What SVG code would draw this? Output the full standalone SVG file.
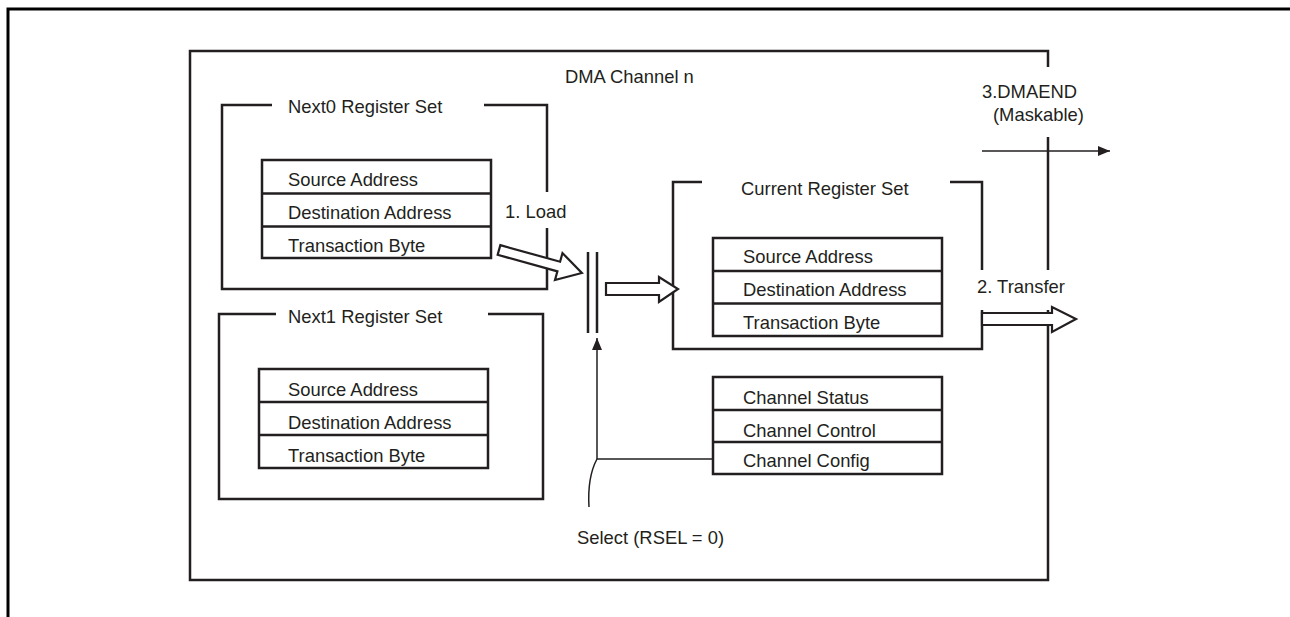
<svg xmlns="http://www.w3.org/2000/svg" width="1290" height="617" viewBox="0 0 1290 617">
<style>
text{font-family:"Liberation Sans",Arial,sans-serif;font-size:18.4px;fill:#231f20}
.b{fill:none;stroke:#231f20;stroke-width:2.5}
.t{fill:#fff;stroke:#231f20;stroke-width:2.5}
.f{fill:none;stroke:#000;stroke-width:3}
.ha{fill:#fff;stroke:#231f20;stroke-width:2.2;stroke-linejoin:miter}
.thin{fill:none;stroke:#231f20;stroke-width:1.5}
</style>
<defs>
<marker id="ah" viewBox="0 0 12 10" refX="12" refY="5" markerWidth="12" markerHeight="10" markerUnits="userSpaceOnUse" orient="auto">
<path d="M0,0 L12,5 L0,10 Z" fill="#231f20"/>
</marker>
</defs>
<rect width="1290" height="617" fill="#fff"/>
<path class="f" d="M8,617 V9 H1290"/>
<g id="channel">
<path class="b" d="M1048,67 V51 H190 V580 H1048 V310 M1048,270 V137"/>
<text x="565" y="83">DMA Channel n</text>
</g>
<g id="next0">
<path class="b" d="M272,105 H222 V289 H547 V228 M547,192 V105 H484"/>
<text x="288" y="113">Next0 Register Set</text>
<rect class="t" x="262" y="160" width="229" height="98"/>
<path class="b" d="M262,193.5 H491 M262,226.5 H491"/>
<text x="288" y="186">Source Address</text>
<text x="288" y="219">Destination Address</text>
<text x="288" y="252">Transaction Byte</text>
</g>
<g id="next1">
<path class="b" d="M276,314 H219 V499 H543 V314 H488"/>
<text x="288" y="323">Next1 Register Set</text>
<rect class="t" x="259" y="369" width="229" height="99"/>
<path class="b" d="M259,402 H488 M259,435 H488"/>
<text x="288" y="396">Source Address</text>
<text x="288" y="429">Destination Address</text>
<text x="288" y="462">Transaction Byte</text>
</g>
<g id="current">
<path class="b" d="M702,182 H673 V349 H982 V310 M982,270 V182 H950"/>
<text x="741" y="195">Current Register Set</text>
<rect class="t" x="713" y="238" width="229" height="98"/>
<path class="b" d="M713,271 H942 M713,303.5 H942"/>
<text x="743" y="263">Source Address</text>
<text x="743" y="296">Destination Address</text>
<text x="743" y="329">Transaction Byte</text>
</g>
<g id="control">
<rect class="t" x="713" y="377" width="229" height="97"/>
<path class="b" d="M713,410 H942 M713,442 H942"/>
<text x="743" y="404">Channel Status</text>
<text x="743" y="437">Channel Control</text>
<text x="743" y="467">Channel Config</text>
</g>
<g id="switch">
<path class="b" d="M588,252 V333 M597,252 V333"/>
</g>
<g id="connectors">
<polygon class="ha" points="0,-5 62,-5 62,-14 86,0 62,14 62,5 0,5" transform="translate(499,250) rotate(15.5)"/>
<polygon class="ha" points="606,283 659,283 659,277 678,289 659,302 659,295 606,295"/>
<polygon class="ha" points="982,313 1052,313 1052,307 1076,319 1052,332 1052,325 982,325"/>
<path class="thin" d="M982,151 H1110" marker-end="url(#ah)"/>
<path class="thin" d="M713,459 H597 V338" marker-end="url(#ah)"/>
<path class="thin" d="M597,459 C590,472 588,490 589,507"/>
<text x="505" y="218">1. Load</text>
<text x="977" y="293">2. Transfer</text>
<text x="982" y="98">3.DMAEND</text>
<text x="993" y="121">(Maskable)</text>
<text x="577" y="544">Select (RSEL = 0)</text>
</g>
</svg>
